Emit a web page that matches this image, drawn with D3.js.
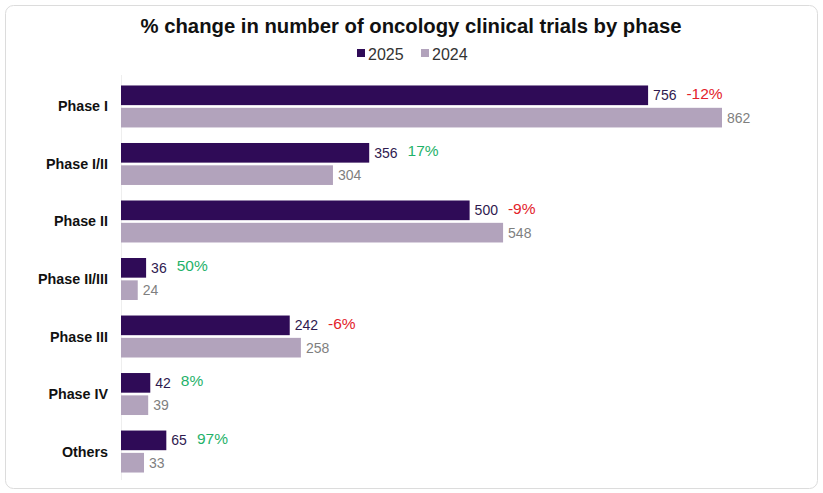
<!DOCTYPE html>
<html>
<head>
<meta charset="utf-8">
<script src="https://cdn.jsdelivr.net/npm/d3@7"></script>
<style>
  body { margin: 0; background: #fff; font-family: "Liberation Sans", Arial, sans-serif; }
</style>
</head>
<body>
<svg id="chart"></svg>
<script>
const phases = ["Phase I", "Phase I/II", "Phase II", "Phase II/III", "Phase III", "Phase IV", "Others"];
const values2025 = [756, 356, 500, 36, 242, 42, 65];
const values2024 = [862, 304, 548, 24, 258, 39, 33];
const changes = ["-12%", "17%", "-9%", "50%", "-6%", "8%", "97%"];

const width = 823, height = 493;
const svg = d3.select("#chart").attr("width", width).attr("height", height);

// Card frame
svg.append("rect")
  .attr("x", 5.5).attr("y", 5.5)
  .attr("width", 812).attr("height", 483)
  .attr("rx", 8)
  .attr("fill", "#fff")
  .attr("stroke", "#dcdcdc");

svg.append("text")
  .attr("x", 411).attr("y", 33)
  .attr("text-anchor", "middle")
  .attr("font-size", 20.3).attr("font-weight", "bold")
  .attr("fill", "#111")
  .text("% change in number of oncology clinical trials by phase");

// Legend
const legend = [["2025", "#2f0b57", 357], ["2024", "#b2a3bc", 421]];
legend.forEach(([name, color, lx]) => {
  svg.append("rect").attr("x", lx).attr("y", 49).attr("width", 8).attr("height", 8).attr("fill", color);
  svg.append("text").attr("x", lx + 11).attr("y", 60)
    .attr("font-size", 16).attr("fill", "#333").text(name);
});

const x = d3.scaleLinear().domain([0, 862]).range([121, 722]);
const y = d3.scaleBand().domain(phases).range([78, 480]).paddingInner(0.27).paddingOuter(0.13);
const sub = d3.scaleBand().domain(["2025", "2024"]).range([0, y.bandwidth()]).paddingInner(0.12);

// Axis line
svg.append("line")
  .attr("x1", x(0) + 0.5).attr("x2", x(0) + 0.5)
  .attr("y1", 75).attr("y2", 480)
  .attr("stroke", "#eeeeee");

// Category labels
svg.append("g").selectAll("text")
  .data(phases)
  .join("text")
  .attr("x", 108)
  .attr("y", d => y(d) + y.bandwidth() / 2)
  .attr("dy", "0.35em")
  .attr("text-anchor", "end")
  .attr("font-size", 14.3).attr("font-weight", "bold")
  .attr("fill", "#111")
  .text(d => d);

const rows = phases.map((p, i) => ({ phase: p, v25: values2025[i], v24: values2024[i], chg: changes[i] }));

const g = svg.append("g");

g.selectAll("rect.b25")
  .data(rows)
  .join("rect")
  .attr("class", "b25")
  .attr("x", x(0))
  .attr("y", d => y(d.phase) + sub("2025"))
  .attr("width", d => x(d.v25) - x(0))
  .attr("height", sub.bandwidth())
  .attr("fill", "#2f0b57");

g.selectAll("rect.b24")
  .data(rows)
  .join("rect")
  .attr("class", "b24")
  .attr("x", x(0))
  .attr("y", d => y(d.phase) + sub("2024"))
  .attr("width", d => x(d.v24) - x(0))
  .attr("height", sub.bandwidth())
  .attr("fill", "#b2a3bc");

// Value labels
const lab25 = g.selectAll("text.l25")
  .data(rows)
  .join("text")
  .attr("class", "l25")
  .attr("x", d => x(d.v25) + 5)
  .attr("y", d => y(d.phase) + sub("2025") + sub.bandwidth() / 2)
  .attr("dy", "0.35em")
  .attr("font-size", 14)
  .attr("fill", "#2f1a4f")
  .text(d => d.v25);

g.selectAll("text.l24")
  .data(rows)
  .join("text")
  .attr("class", "l24")
  .attr("x", d => x(d.v24) + 5)
  .attr("y", d => y(d.phase) + sub("2024") + sub.bandwidth() / 2)
  .attr("dy", "0.35em")
  .attr("font-size", 14)
  .attr("fill", "#7f7f7f")
  .text(d => d.v24);

// Percent change labels, placed after the 2025 value
lab25.each(function(d) {
  const end = +d3.select(this).attr("x") + this.getComputedTextLength();
  g.append("text")
    .attr("x", end + 10)
    .attr("y", y(d.phase) + sub("2025") + sub.bandwidth() / 2 - 2)
    .attr("dy", "0.35em")
    .attr("font-size", 15.5)
    .attr("fill", d.chg.startsWith("-") ? "#e3222a" : "#1fb26a")
    .text(d.chg);
});
</script>
</body>
</html>
